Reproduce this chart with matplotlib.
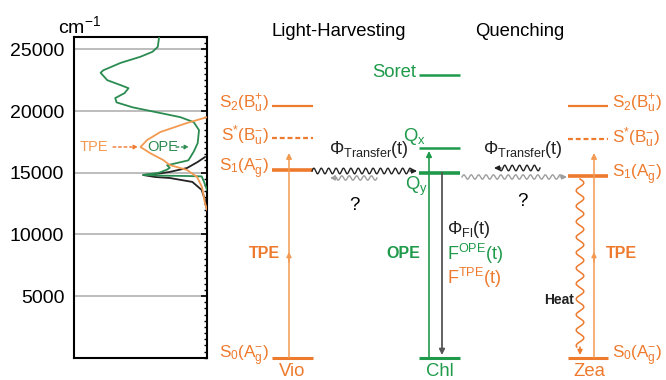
import numpy as np
import matplotlib.pyplot as plt
from matplotlib.ticker import MultipleLocator

plt.rcParams['font.family'] = ['Liberation Sans', 'DejaVu Sans']
plt.rcParams['mathtext.fontset'] = 'custom'
plt.rcParams['mathtext.rm'] = 'Liberation Sans'
plt.rcParams['mathtext.it'] = 'Liberation Sans:italic'
plt.rcParams['mathtext.bf'] = 'Liberation Sans:bold'

ORANGE = '#EE7A2E'
ORANGE_LT = '#F39A52'
GREEN = '#1E9A4A'
GREEN_DK = '#2B8C52'

# spectra: relative intensity (grows to the left) vs wavenumber (cm-1)
ope_int = [0.36, 0.37, 0.41, 0.50, 0.65, 0.78, 0.80, 0.75, 0.65, 0.59, 0.62, 0.69,
           0.68, 0.56, 0.38, 0.20, 0.10, 0.06, 0.07, 0.10, 0.14, 0.26, 0.30, 0.28,
           0.30, 0.36, 0.48, 0.33, 0.15, 0.04, 0.02, 0.0]
ope_wn = [26000, 25200, 24800, 24400, 23900, 23300, 23100, 22500, 22100, 21850, 21450, 21050,
          20700, 20300, 19900, 19500, 19100, 18450, 17400, 16700, 16000, 15700, 15600, 15400,
          15250, 15000, 14820, 14760, 14730, 14700, 14200, 13600]
tpe_int = [0.0, 0.15, 0.35, 0.45, 0.50, 0.43, 0.33, 0.28, 0.15, 0.075, 0.038, 0.015, 0.0]
tpe_wn = [19500, 19030, 18300, 17650, 17080, 16600, 16030, 15620, 15220, 14650, 13840, 12540, 12000]
fl_int = [0.015, 0.07, 0.15, 0.28, 0.39, 0.48, 0.39, 0.28, 0.11, 0.04, 0.015, 0.0]
fl_wn = [16270, 15870, 15380, 15060, 14890, 14810, 14650, 14570, 14250, 13600, 12790, 11980]

# energy levels (cm-1): S2, S*, S1, S0 for the carotenoids; Soret, Qx, Qy, ground for Chl
vio_levels = [20400, 17800, 15200, 0]
zea_levels = [20400, 17700, 14700, 0]
chl_levels = [22900, 17000, 15000, 0]
car_labels = ['S$_\\mathrm{2}$(B$_\\mathrm{u}^\\mathrm{+}$)',
              'S$^\\mathrm{*}$(B$_\\mathrm{u}^\\mathrm{-}$)',
              'S$_\\mathrm{1}$(A$_\\mathrm{g}^\\mathrm{-}$)',
              'S$_\\mathrm{0}$(A$_\\mathrm{g}^\\mathrm{-}$)']

W, H = 666, 380
K = 26000 / 320.7  # cm-1 per pixel row


def py(p):
    return (357.7 - p) * K


fig = plt.figure(figsize=(W / 100, H / 100), dpi=100)

# spectrum panel
ax = fig.add_axes([74 / W, 22.3 / H, 133 / W, 320.7 / H])
ax.plot(ope_int, ope_wn, color=GREEN_DK, lw=1.3, zorder=3)
ax.plot(tpe_int, tpe_wn, color=ORANGE_LT, lw=1.3, zorder=3)
ax.plot(fl_int, fl_wn, color='#222222', lw=1.3, zorder=2)
ax.set_xlim(1, 0)
ax.set_ylim(0, 26000)
ax.set_xticks([])
ax.set_yticks([5000, 10000, 15000, 20000, 25000])
ax.yaxis.set_minor_locator(MultipleLocator(500))
ax.yaxis.grid(True, color='#BDBDBD', lw=1.4)
ax.tick_params(axis='y', which='both', left=False, right=True, direction='in',
               labelsize=14, pad=7)
ax.tick_params(axis='y', which='major', length=4, width=1.2)
ax.tick_params(axis='y', which='minor', length=2.5, width=1)
for s in ax.spines.values():
    s.set_linewidth(1.5)

# diagram overlay, x in pixels, y in cm-1
ax2 = fig.add_axes([0, 0, 1, 1])
ax2.set_xlim(0, W)
ax2.set_ylim(py(H), py(0))
ax2.axis('off')

ax2.text(58, py(33), 'cm$^\\mathrm{-1}$', fontsize=14, va='baseline')
ax2.text(80, py(147), 'TPE', color=ORANGE_LT, fontsize=10.5, va='center')
ax2.annotate('', xy=(138, py(147)), xytext=(113, py(147)),
             arrowprops=dict(arrowstyle='-|>', color=ORANGE, lw=1, ls=(0, (2, 2)),
                             mutation_scale=6, shrinkA=0, shrinkB=0))
ax2.text(147, py(147), 'OPE', color=GREEN_DK, fontsize=10.5, va='center')
ax2.annotate('', xy=(189, py(147)), xytext=(176, py(147)),
             arrowprops=dict(arrowstyle='-|>', color=GREEN_DK, lw=1, ls=(0, (2, 2)),
                             mutation_scale=6, shrinkA=0, shrinkB=0))

ax2.text(339, py(32), 'Light-Harvesting', fontsize=13.3, ha='center', va='center')
ax2.text(520, py(32), 'Quenching', fontsize=13.3, ha='center', va='center')


def level(x0, x1, e, color, lw, ls='-'):
    ax2.plot([x0, x1], [e, e], color=color, lw=lw, ls=ls, solid_capstyle='butt')


styles = [(1.6, '-'), (1.6, (0, (2.2, 1.3))), (2.6, '-'), (2.2, '-')]
for e, (lw, ls) in zip(vio_levels, styles):
    level(272, 313, e, ORANGE, lw, ls)
for e, (lw, ls) in zip(zea_levels, styles):
    level(568, 608, e, ORANGE, lw, ls)
for e, lw in zip(chl_levels, [1.8, 1.8, 2.6, 2.2]):
    level(419, 460, e, GREEN, lw)

for e, lab in zip(vio_levels, car_labels):
    ax2.text(269, e + 150, lab, color=ORANGE, fontsize=12.3, ha='right', va='center')
for e, lab in zip(zea_levels, car_labels):
    ax2.text(612, e + 150, lab, color=ORANGE, fontsize=12.3, ha='left', va='center')
ax2.text(416, chl_levels[0] + 250, 'Soret', color=GREEN, fontsize=13.3, ha='right', va='center')
ax2.text(403, py(136), 'Q$_\\mathrm{x}$', color=GREEN, fontsize=13.3, ha='left', va='center')
ax2.text(405, py(186), 'Q$_\\mathrm{y}$', color=GREEN, fontsize=13.3, ha='left', va='center')

ax2.text(292, py(371), 'Vio', color=ORANGE, fontsize=13.3, ha='center', va='center')
ax2.text(440, py(371), 'Chl', color=GREEN, fontsize=13.3, ha='center', va='center')
ax2.text(589, py(371), 'Zea', color=ORANGE, fontsize=13.3, ha='center', va='center')


def arrow(x, y0, y1, color, lw=1.0, ms=8):
    ax2.annotate('', xy=(x, y1), xytext=(x, y0),
                 arrowprops=dict(arrowstyle='-|>', color=color, lw=lw,
                                 mutation_scale=ms, shrinkA=0, shrinkB=0))


# two-photon excitation of the carotenoids
for x in (289, 594):
    arrow(x, 0, py(153), ORANGE_LT, 1.1)
    arrow(x, py(262), py(252), ORANGE_LT, 1.1, 7)
ax2.text(280, py(253), 'TPE', color=ORANGE, fontsize=11.5, fontweight='bold', ha='right', va='center')
ax2.text(606, py(253), 'TPE', color=ORANGE, fontsize=11.5, fontweight='bold', ha='left', va='center')

# Chl one-photon excitation and fluorescence
arrow(429, 0, py(151), GREEN, 1.2)
arrow(442, chl_levels[2], py(355), '#555555', 1.3)
ax2.text(420, py(253), 'OPE', color=GREEN, fontsize=11.5, fontweight='bold', ha='right', va='center')
ax2.text(447, py(229), '$\\Phi_\\mathrm{Fl}$(t)', color='#222222', fontsize=13, va='center')
ax2.text(447, py(254), 'F$^\\mathrm{OPE}$(t)', color=GREEN, fontsize=13, va='center')
ax2.text(447, py(278), 'F$^\\mathrm{TPE}$(t)', color=ORANGE, fontsize=13, va='center')


def hwave(x0, x1, yp, color, amp=2.8, period=7.4, lw=1.0):
    d = np.sign(x1 - x0)
    xs = np.linspace(x0, x1 - 5 * d, 400)
    ys = py(yp) + amp * K * np.sin(2 * np.pi * (xs - x0) / period)
    ax2.plot(xs, ys, color=color, lw=lw)
    ax2.annotate('', xy=(x1, py(yp)), xytext=(x1 - 7 * d, py(yp)),
                 arrowprops=dict(arrowstyle='-|>', color=color, lw=lw,
                                 mutation_scale=7, shrinkA=0, shrinkB=0))


hwave(312, 417, 171, '#222222')
hwave(377, 330, 178, '#9E9E9E', amp=2.2)
hwave(462, 567, 177, '#9E9E9E', amp=2.2)
hwave(540, 494, 168, '#222222')
ax2.text(329, py(150), '$\\Phi_\\mathrm{Transfer}$(t)', color='#222222', fontsize=13, va='center')
ax2.text(483, py(150), '$\\Phi_\\mathrm{Transfer}$(t)', color='#222222', fontsize=13, va='center')
ax2.text(354, py(206), '?', fontsize=13.3, ha='center', va='center')
ax2.text(522, py(201), '?', fontsize=13.3, ha='center', va='center')

# heat dissipation in Zea
ys_px = np.linspace(179, 347, 400)
xs = 580 + 3.8 * np.sin(2 * np.pi * (ys_px - 179) / 15.5)
ax2.plot(xs, py(ys_px), color=ORANGE, lw=1.1)
arrow(580, py(347), py(355), ORANGE, 1.1, 7)
ax2.text(574, py(300), 'Heat', color='#222222', fontsize=10, fontweight='bold', ha='right', va='center')

fig.savefig('out.png', dpi=100)
